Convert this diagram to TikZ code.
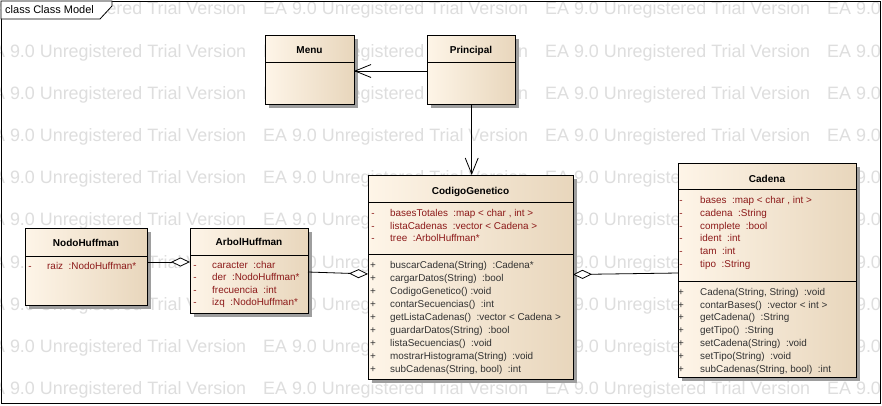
\documentclass[tikz,border=0pt]{standalone}
\usepackage{fontspec}
\setmainfont{Liberation Sans}
\usetikzlibrary{arrows.meta,calc}
\definecolor{boxL}{RGB}{254,245,232}
\definecolor{boxR}{RGB}{232,214,188}
\definecolor{attrc}{RGB}{140,25,25}
\definecolor{methc}{RGB}{50,50,50}
\definecolor{wm}{RGB}{222,222,222}
\pgfdeclarelayer{bg}
\pgfdeclarelayer{shade}
\pgfsetlayers{bg,shade,main}
\begin{document}
\begin{tikzpicture}[x=1pt,y=-1pt,
  classbox/.style={draw=black,line width=0.9pt,left color=boxL,right color=boxR,inner sep=0pt,outer sep=0pt,anchor=north west},
  sepline/.style={draw=black,line width=0.8pt},
  ctitle/.style={font=\bfseries\fontsize{10}{12}\selectfont,anchor=base,inner sep=0pt},
  attrtxt/.style={font=\fontsize{9.9}{12}\selectfont,text=attrc,anchor=base west,inner sep=0pt},
  methtxt/.style={font=\fontsize{9.9}{12}\selectfont,text=methc,anchor=base west,inner sep=0pt},
  minusmk/.style={font=\fontsize{9.9}{12}\selectfont,text=attrc,anchor=base,inner sep=0pt},
  plusmk/.style={font=\fontsize{9.9}{12}\selectfont,text=methc,anchor=base,inner sep=0pt},
  wmtext/.style={font=\fontsize{17.9}{20}\selectfont,text=wm,anchor=base west,inner sep=0pt},
  assoc/.style={draw=black,line width=0.8pt,-{Straight Barb[length=16pt,width=13pt]}},
  aggr/.style={draw=black,line width=0.8pt,-{Diamond[length=19pt,width=9pt,fill=white]}},
  shadowc/.style={fill=black!38}
]
\useasboundingbox (0,0) rectangle (882,405);
\begin{pgfonlayer}{bg}
\fill[white] (0,0) rectangle (882,405);
\begin{scope}
\clip (0,0) rectangle (882,405);
\foreach \r in {0,...,9}{\foreach \c in {0,...,3}{
  \node[wmtext] (wm\r\c) at ({-19+282*\c},{14.9+42.2*\r}) {EA 9.0 Unregistered Trial Version};}}
\end{scope}
\end{pgfonlayer}

% frame and tab
\draw[line width=0.9pt] (1,1) rectangle (880.5,403);
\draw[line width=0.8pt,fill=white] (1,1) -- (112,1) -- (112,6) -- (100,19) -- (1,19) -- cycle;
\node[font=\fontsize{11}{12}\selectfont,anchor=base west,inner sep=0pt] (tabtxt) at (5,13.5) {class Class Model};

% class boxes
\node[classbox,minimum width=89pt,minimum height=69pt] (menu) at (265,35) {};
\node[classbox,minimum width=88pt,minimum height=69pt] (principal) at (427,35) {};
\node[classbox,minimum width=205pt,minimum height=204pt] (cg) at (368,175) {};
\node[classbox,minimum width=178pt,minimum height=214pt] (cadena) at (678,163) {};
\node[classbox,minimum width=122pt,minimum height=77pt] (nodo) at (25,228) {};
\node[classbox,minimum width=118pt,minimum height=85pt] (arbol) at (190,228) {};

\begin{pgfonlayer}{shade}
\foreach \n in {menu,principal,cg,cadena,nodo,arbol}{
  \fill[shadowc] ($(\n.north west)+(3.5,3.5)$) rectangle ($(\n.south east)+(3.5,3.5)$);}
\end{pgfonlayer}

% compartment separators
\draw[sepline] ($(menu.north west)+(0,27)$) -- ($(menu.north east)+(0,27)$);
\draw[sepline] ($(principal.north west)+(0,27)$) -- ($(principal.north east)+(0,27)$);
\draw[sepline] ($(cg.north west)+(0,27)$) -- ($(cg.north east)+(0,27)$);
\draw[sepline] ($(cg.north west)+(0,79)$) -- ($(cg.north east)+(0,79)$);
\draw[sepline] ($(cadena.north west)+(0,26)$) -- ($(cadena.north east)+(0,26)$);
\draw[sepline] ($(cadena.north west)+(0,118)$) -- ($(cadena.north east)+(0,118)$);
\draw[sepline] ($(nodo.north west)+(0,28)$) -- ($(nodo.north east)+(0,28)$);
\draw[sepline] ($(arbol.north west)+(0,27.5)$) -- ($(arbol.north east)+(0,27.5)$);

% titles
\node[ctitle] (menut) at ($(menu.north)+(0,18.6)$) {Menu};
\node[ctitle] (principalt) at ($(principal.north)+(0,18.6)$) {Principal};
\node[ctitle] (cgt) at ($(cg.north)+(0,19.3)$) {CodigoGenetico};
\node[ctitle] (cadenat) at ($(cadena.north)+(0,19)$) {Cadena};
\node[ctitle] (nodot) at ($(nodo.north)+(0,18)$) {NodoHuffman};
\node[ctitle] (arbolt) at ($(arbol.north)+(0,17.6)$) {ArbolHuffman};

% CodigoGenetico members
\foreach \t [count=\i] in {{basesTotales~ :map < char , int >},{listaCadenas~ :vector < Cadena >},{tree~ :ArbolHuffman*}}{
  \node[minusmk] (cgam\i) at (373,{216.8+12.5*(\i-1)}) {-};
  \node[attrtxt] (cga\i) at (390,{216.8+12.5*(\i-1)}) {\t};}
\foreach \t [count=\i] in {{buscarCadena(String)~ :Cadena*},{cargarDatos(String)~ :bool},{CodigoGenetico() :void},{contarSecuencias()~ :int},{getListaCadenas()~ :vector < Cadena >},{guardarDatos(String)~ :bool},{listaSecuencias()~ :void},{mostrarHistograma(String)~ :void},{subCadenas(String, bool)~ :int}}{
  \node[plusmk] (cgmm\i) at (373,{268.5+13*(\i-1)}) {+};
  \node[methtxt] (cgm\i) at (390,{268.5+13*(\i-1)}) {\t};}

% Cadena members
\foreach \t [count=\i] in {{bases~ :map < char , int >},{cadena~ :String},{complete~ :bool},{ident~ :int},{tam~ :int},{tipo~ :String}}{
  \node[minusmk] (caam\i) at (681,{203.5+12.8*(\i-1)}) {-};
  \node[attrtxt] (caa\i) at (700,{203.5+12.8*(\i-1)}) {\t};}
\foreach \t [count=\i] in {{Cadena(String, String)~ :void},{contarBases()~ :vector < int >},{getCadena()~ :String},{getTipo()~ :String},{setCadena(String)~ :void},{setTipo(String)~ :void},{subCadenas(String, bool)~ :int}}{
  \node[plusmk] (camm\i) at (681,{295.2+12.8*(\i-1)}) {+};
  \node[methtxt] (cam\i) at (700,{295.2+12.8*(\i-1)}) {\t};}

% ArbolHuffman members
\foreach \t [count=\i] in {{caracter~ :char},{der~ :NodoHuffman*},{frecuencia~ :int},{izq~ :NodoHuffman*}}{
  \node[minusmk] (aram\i) at (195,{268.5+12.4*(\i-1)}) {-};
  \node[attrtxt] (ara\i) at (212,{268.5+12.4*(\i-1)}) {\t};}

% NodoHuffman member
\node[minusmk] (noam1) at (30,269.5) {-};
\node[attrtxt] (noa1) at (47,269.5) {raiz~ :NodoHuffman*};

% connectors
\draw[assoc] ($(principal.north west)+(0,36)$) -- ($(menu.north east)+(0,36)$);
\coordinate (pc) at ($(principal.south)+(0.7,0)$);
\draw[assoc] (pc) -- (pc |- cg.north);
\draw[aggr] ($(nodo.north east)+(0,34)$) -- ($(arbol.north west)+(0,34)$);
\draw[aggr] ($(arbol.north east)+(0,44)$) -- ($(cg.north west)+(0,99)$);
\draw[aggr] ($(cadena.north west)+(0,110)$) -- ($(cg.north east)+(0,99.5)$);
\end{tikzpicture}
\end{document}
